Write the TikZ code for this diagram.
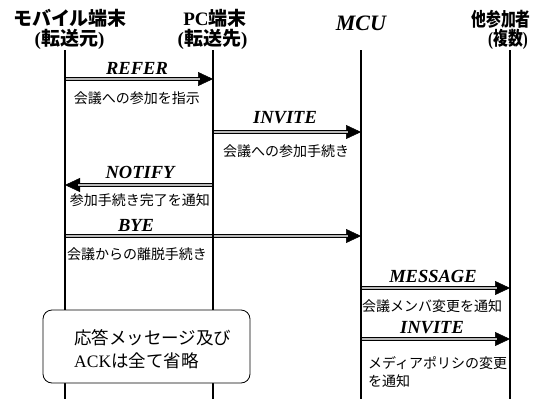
\documentclass[tikz,border=0pt]{standalone}
\usepackage{fontspec}
\setmainfont{Liberation Serif}
\newfontfamily\jp{Noto Sans CJK JP}
\usetikzlibrary{arrows.meta}
\begin{document}
\begin{tikzpicture}[x=1pt,y=-1pt,
  lifeline/.style={line width=1.6pt},
  shaft/.style={double=gray!55, double distance=1.8pt, line width=0.9pt, shorten >=13pt},
  tiparrow/.style={line width=0.5pt, -{Triangle[length=15pt,width=14pt]}},
  mlabel/.style={font=\fontsize{18.5}{20}\selectfont\bfseries\itshape, inner sep=0pt},
  jlabel/.style={font=\jp\fontsize{14}{18}\selectfont, inner sep=0pt},
  head/.style={font=\jp\bfseries\fontsize{19}{20}\selectfont, inner sep=0pt},
  notebox/.style={draw, line width=0.8pt, rounded corners=9pt, fill=white, minimum width=207pt, minimum height=73pt, inner sep=0pt}
]
\useasboundingbox (0,0) rectangle (558,399);
\newcommand\sendmsg[2]{\draw[tiparrow] (#1) -- (#2); \draw[shaft] (#1) -- (#2);}

% headers
\node[head] (h1a) at (70,18) {モバイル端末};
\node[head] (h1b) at (69.5,39) {{\rmfamily\bfseries(}転送元{\rmfamily\bfseries)}};
\node[head] (h2a) at (215,18) {{\rmfamily\bfseries PC}端末};
\node[head] (h2b) at (212.5,39) {{\rmfamily\bfseries(}転送先{\rmfamily\bfseries)}};
\node[font=\fontsize{22}{24}\selectfont\bfseries\itshape, inner sep=0pt] (h3) at (361,23) {MCU};
\node[head, xscale=0.78, transform shape] (h4a) at (501,19) {他参加者};
\node[head, xscale=0.78, transform shape] (h4b) at (508,39) {{\rmfamily\bfseries(}複数{\rmfamily\bfseries)}};

% lifeline ends
\coordinate (L1t) at (65,50);  \coordinate (L1b) at (65,399);
\coordinate (L2t) at (213,50); \coordinate (L2b) at (213,399);
\coordinate (L3t) at (361,50); \coordinate (L3b) at (361,399);
\coordinate (L4t) at (510,50); \coordinate (L4b) at (510,399);

% message endpoints
\coordinate (refA) at (65,79);   \coordinate (refB) at (213,79);
\coordinate (invA) at (213,132); \coordinate (invB) at (361,132);
\coordinate (notA) at (213,185); \coordinate (notB) at (65,185);
\coordinate (byeA) at (65,236);  \coordinate (byeB) at (361,236);
\coordinate (mesA) at (361,288); \coordinate (mesB) at (510,288);
\coordinate (inv2A) at (361,339); \coordinate (inv2B) at (510,339);

\sendmsg{refA}{refB}
\sendmsg{invA}{invB}
\sendmsg{notA}{notB}
\sendmsg{byeA}{byeB}
\sendmsg{mesA}{mesB}
\sendmsg{inv2A}{inv2B}

\draw[lifeline] (L1t) -- (L1b);
\draw[lifeline] (L2t) -- (L2b);
\draw[lifeline] (L3t) -- (L3b);
\draw[lifeline] (L4t) -- (L4b);

% labels
\node[mlabel] (t1) at (137,68) {REFER};
\node[jlabel] (d1) at (137,98) {会議への参加を指示};
\node[mlabel] (t2) at (285,118) {INVITE};
\node[jlabel] (d2) at (286,151) {会議への参加手続き};
\node[mlabel] (t3) at (140,172) {NOTIFY};
\node[jlabel] (d3) at (140,200) {参加手続き完了を通知};
\node[mlabel] (t4) at (136,225) {BYE};
\node[jlabel] (d4) at (137,254) {会議からの離脱手続き};
\node[mlabel] (t5) at (433,276) {MESSAGE};
\node[jlabel] (d5) at (432,306) {会議メンバ変更を通知};
\node[mlabel] (t6) at (432,328) {INVITE};
\node[jlabel, anchor=north west, align=left] (d6) at (368,356) {メディアポリシの変更\\を通知};

% note box
\node[notebox] (box) at (146.5,346.5) {};
\node[font=\jp\fontsize{17.5}{23}\selectfont, inner sep=0pt, anchor=north west, align=left] (boxtext) at (74,329.5) {応答メッセージ及び\\{\rmfamily ACK}は全て省略};
\end{tikzpicture}
\end{document}
